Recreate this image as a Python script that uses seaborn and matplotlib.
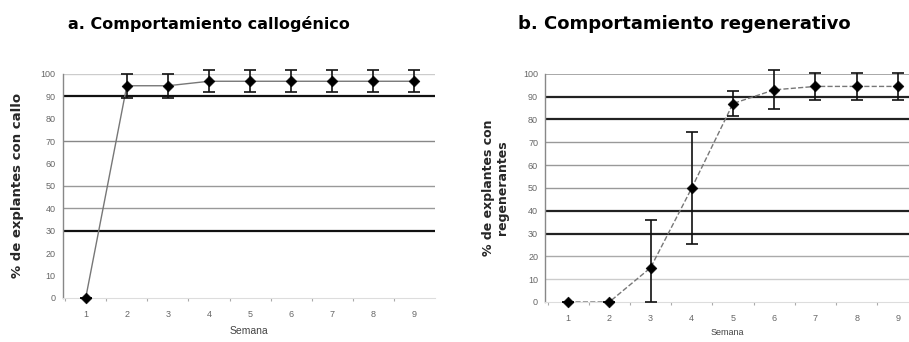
import matplotlib
matplotlib.use("Agg")
import matplotlib.pyplot as plt
import seaborn as sns
import pandas as pd

semanas = [1, 2, 3, 4, 5, 6, 7, 8, 9]

# a. callogenico
callo_media = [0, 94.7, 94.7, 96.7, 96.7, 96.7, 96.7, 96.7, 96.7]
callo_error = [0, 5.3, 5.3, 5.0, 5.0, 5.0, 5.0, 5.0, 5.0]

# b. regenerativo
regen_media = [0, 0, 15, 50, 87, 93, 94.5, 94.5, 94.5]
regen_error = [0, 0, 21, 24.5, 5.5, 8.5, 6.0, 6.0, 6.0]

yticks = [0, 10, 20, 30, 40, 50, 60, 70, 80, 90, 100]

# gridlines as they appear in the scan (value: (color, width))
grid_a = {30: ("#111111", 1.6), 40: ("#999999", 1.0), 50: ("#999999", 1.0),
          70: ("#888888", 1.0), 90: ("#111111", 1.6), 100: ("#cccccc", 1.0)}
grid_b = {10: ("#cccccc", 1.0), 20: ("#aaaaaa", 1.0), 30: ("#222222", 1.6),
          40: ("#222222", 1.6), 50: ("#999999", 1.0), 60: ("#999999", 1.0),
          70: ("#999999", 1.0), 80: ("#222222", 1.6), 90: ("#222222", 1.6),
          100: ("#999999", 1.2)}

df_a = pd.DataFrame({"Semana": semanas, "valor": callo_media, "err": callo_error})
df_b = pd.DataFrame({"Semana": semanas, "valor": regen_media, "err": regen_error})

sns.set_style("white")
plt.rcParams["font.family"] = ["Liberation Sans", "DejaVu Sans"]

fig = plt.figure(figsize=(9.09, 3.42), dpi=100)
ax1 = fig.add_axes([0.069, 0.129, 0.41, 0.655])
ax2 = fig.add_axes([0.5996, 0.117, 0.4004, 0.667])


def panel(ax, df, grid, dashes, xmax):
    for v, (c, w) in grid.items():
        ax.axhline(v, color=c, lw=w, zorder=1)
    sns.lineplot(data=df, x="Semana", y="valor", ax=ax, color="#777777",
                 lw=1.0, linestyle=dashes, zorder=2)
    # the bars stop at the axis (0 %)
    low = df[["err", "valor"]].min(axis=1)
    ax.errorbar(df["Semana"], df["valor"], yerr=[low, df["err"]], fmt="none",
                ecolor="#111111", elinewidth=1.2, capsize=4, capthick=1.2,
                zorder=3, clip_on=False)
    sns.scatterplot(data=df, x="Semana", y="valor", ax=ax, marker="D", s=30,
                    color="black", edgecolor="black", zorder=4, clip_on=False)
    ax.set_xlim(0.44, xmax)
    ax.set_ylim(0, 100)
    ax.set_yticks(yticks)
    ax.set_xticks(semanas)
    ax.set_xticks([s + 0.5 for s in semanas[:-1]] + [0.5], minor=True)
    ax.tick_params(axis="y", which="major", labelsize=6.5, colors="#666666",
                   length=0, pad=5)
    ax.tick_params(axis="x", which="major", labelsize=6.5, colors="#666666",
                   length=0, pad=9)
    ax.tick_params(axis="x", which="minor", length=2, width=0.8,
                   color="#aaaaaa", bottom=True)
    for s in ["top", "right"]:
        ax.spines[s].set_visible(False)
    ax.spines["left"].set_color("#888888")
    ax.spines["left"].set_linewidth(1.0)
    ax.spines["bottom"].set_color("#dddddd")
    ax.set_xlabel("")
    ax.set_ylabel("")


panel(ax1, df_a, grid_a, "-", 9.51)
panel(ax2, df_b, grid_b, "--", 9.27)

ax1.set_ylabel("% de explantes con callo", fontsize=9.5, fontweight="bold",
               family="DejaVu Sans", labelpad=12)
ax2.set_ylabel("% de explantes con\nregenerantes", fontsize=9,
               fontweight="bold", family="DejaVu Sans", labelpad=10,
               linespacing=1.1)
ax1.set_xlabel("Semana", fontsize=7.5, color="#444444", labelpad=5)
ax2.set_xlabel("Semana", fontsize=6.5, color="#444444", labelpad=3)

fig.text(0.075, 0.93, "a. Comportamiento callogénico", fontsize=11.5,
         fontweight="bold", family="DejaVu Sans", color="black",
         ha="left", va="center")
fig.text(0.57, 0.93, "b. Comportamiento regenerativo", fontsize=13,
         fontweight="bold", family="DejaVu Sans", color="black",
         ha="left", va="center")

fig.savefig("out.png", dpi=100)
